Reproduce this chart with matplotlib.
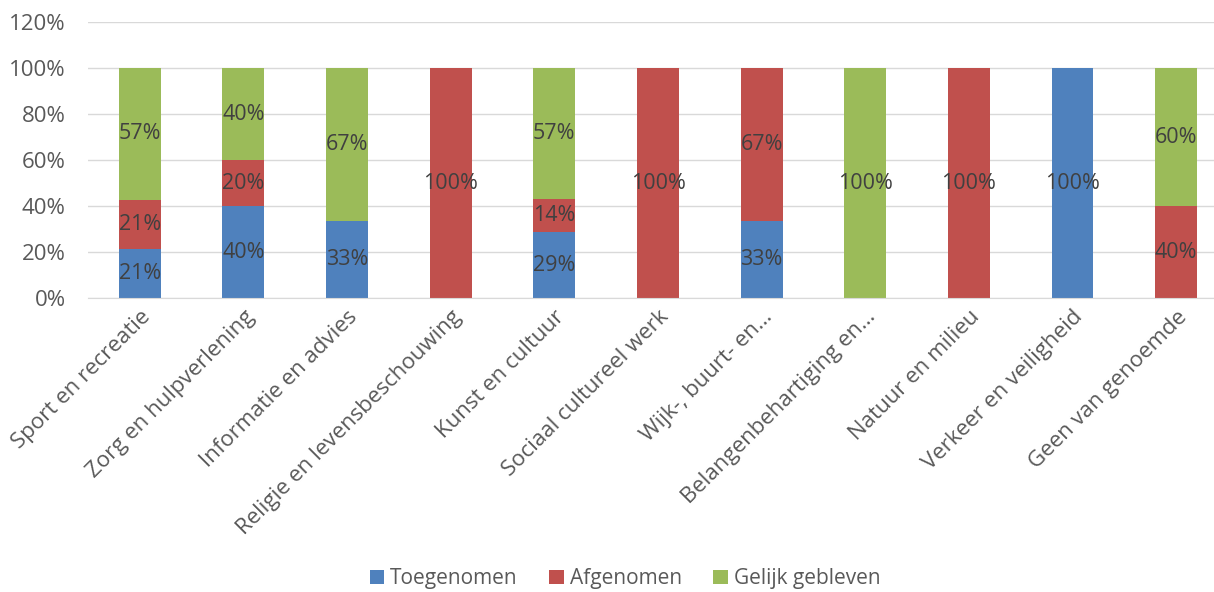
import numpy as np
import matplotlib
matplotlib.use('Agg')
import matplotlib.pyplot as plt
from matplotlib.ticker import PercentFormatter

plt.rcParams['font.family'] = ['Open Sans', 'DejaVu Sans']

categories = ['Sport en recreatie', 'Zorg en hulpverlening', 'Informatie en advies',
              'Religie en levensbeschouwing', 'Kunst en cultuur', 'Sociaal cultureel werk',
              'Wijk-, buurt- en…', 'Belangenbehartiging en…', 'Natuur en milieu',
              'Verkeer en veiligheid', 'Geen van genoemde']
toegenomen = [21.4, 40, 33.3, 0, 28.6, 0, 33.3, 0, 0, 100, 0]
afgenomen = [21.4, 20, 0, 100, 14.3, 100, 66.7, 0, 100, 0, 40]
gelijk = [57.1, 40, 66.7, 0, 57.1, 0, 0, 100, 0, 0, 60]
series = ['Toegenomen', 'Afgenomen', 'Gelijk gebleven']
colors = ['#4F81BD', '#C0504D', '#9BBB59']

fig = plt.figure(figsize=(12.14, 5.92), dpi=100)
ax = fig.add_axes([0.0725, 0.4966, 0.939, 0.4662])

x = np.arange(len(categories))
bottom = np.zeros(len(categories))
for name, vals, col in zip(series, [toegenomen, afgenomen, gelijk], colors):
    vals = np.array(vals)
    ax.bar(x, vals, 0.405, bottom=bottom, color=col, label=name, zorder=2)
    for xi, b, v in zip(x, bottom, vals):
        if v > 0:
            ax.text(xi, b + v / 2, f'{v:.0f}%', ha='center', va='center',
                    fontsize=15.5, color='#404040', zorder=3)
    bottom += vals

ax.set_xlim(-0.5, len(categories) - 0.5)
ax.set_ylim(0, 120)
ax.set_yticks(range(0, 121, 20))
ax.yaxis.set_major_formatter(PercentFormatter(decimals=0))
ax.grid(axis='y', color='#D9D9D9', linewidth=1, zorder=0)
for s in ['top', 'right', 'left']:
    ax.spines[s].set_visible(False)
ax.spines['bottom'].set_color('#D9D9D9')
ax.tick_params(axis='both', length=0, labelsize=16, colors='#595959')
ax.tick_params(axis='y', pad=16)
ax.tick_params(axis='x', pad=6)
ax.set_xticks(x)
ax.set_xticklabels(categories, rotation=45, ha='right', rotation_mode='anchor')

handles, labels = ax.get_legend_handles_labels()
fig.legend(handles, labels, loc='center', bbox_to_anchor=(0.515, 0.022), ncol=3,
           frameon=False, fontsize=15, handlelength=0.7, handleheight=0.7,
           handletextpad=0.3, columnspacing=1.5, labelcolor='#595959')

fig.savefig('out.png', dpi=100)
